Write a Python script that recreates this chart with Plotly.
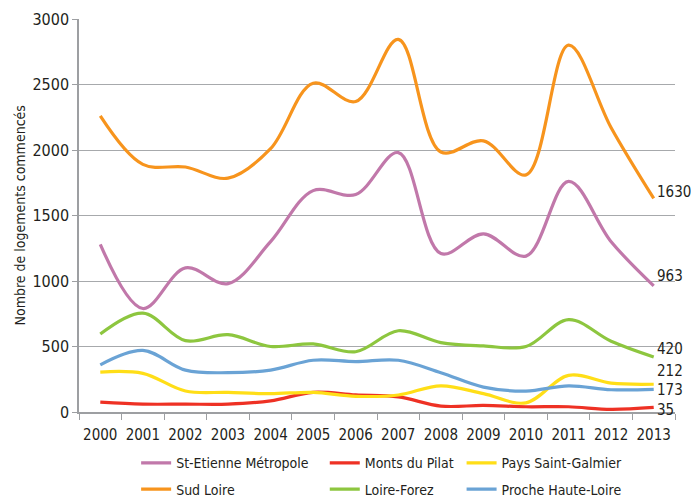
import plotly.graph_objects as go

years = [str(y) for y in range(2000, 2014)]

st_etienne = [1280, 790, 1100, 980, 1300, 1690, 1660, 1980, 1210, 1360, 1190, 1760, 1300, 963]
monts_pilat = [75, 60, 60, 60, 85, 150, 130, 115, 45, 50, 40, 40, 20, 35]
pays_galmier = [305, 295, 160, 150, 140, 150, 120, 130, 200, 140, 70, 280, 220, 212]
sud_loire = [2260, 1890, 1870, 1785, 2010, 2510, 2370, 2845, 1985, 2070, 1810, 2800, 2170, 1630]
loire_forez = [595, 755, 545, 590, 500, 520, 460, 620, 530, 505, 500, 705, 540, 420]
proche_hl = [360, 470, 320, 300, 320, 395, 385, 395, 300, 190, 160, 200, 170, 173]

FONT = "DejaVu Sans Condensed, Liberation Sans Narrow, sans-serif"
TXT = "#231f20"

# (name, values, colour, legend column)
series = [
    ("St-Etienne Métropole", st_etienne, "#c178aa", "legend"),
    ("Sud Loire", sud_loire, "#f7941d", "legend"),
    ("Monts du Pilat", monts_pilat, "#ee3124", "legend2"),
    ("Loire-Forez", loire_forez, "#8dc63f", "legend2"),
    ("Pays Saint-Galmier", pays_galmier, "#ffde17", "legend3"),
    ("Proche Haute-Loire", proche_hl, "#6aa3d5", "legend3"),
]

# end-of-line value labels, nudged vertically so they stay apart
end_shift = {"Sud Loire": 6, "St-Etienne Métropole": 10, "Loire-Forez": 8,
             "Pays Saint-Galmier": 13, "Proche Haute-Loire": -1, "Monts du Pilat": -3}

last = len(years) - 1

fig = go.Figure()
for name, vals, color, leg in series:
    fig.add_trace(go.Scatter(
        x=years, y=vals, name=name, mode="lines",
        line=dict(color=color, width=3.2, shape="spline", smoothing=1.0),
        legend=leg, legendgroup=name,
    ))
    fig.add_annotation(
        x=last, y=vals[-1], text=str(vals[-1]), showarrow=False,
        xanchor="left", yanchor="middle", xshift=1, yshift=end_shift[name],
        font=dict(family=FONT, size=15, color=TXT),
    )

# rotated y-axis title
fig.add_annotation(
    text="Nombre de logements commencés", textangle=-90, showarrow=False,
    xref="paper", yref="paper", x=-0.099, y=0.5, xanchor="center", yanchor="middle",
    font=dict(family=FONT, size=14, color=TXT),
)

leg_common = dict(orientation="v", yanchor="top", xanchor="left",
                  xref="container", yref="container", y=0.1,
                  font=dict(family=FONT, size=14, color=TXT),
                  bgcolor="rgba(0,0,0,0)", tracegroupgap=5, itemwidth=30,
                  traceorder="grouped")

fig.update_layout(
    width=691, height=497,
    margin=dict(l=79, r=16, t=19, b=85, autoexpand=False),
    paper_bgcolor="white", plot_bgcolor="white",
    font=dict(family=FONT, size=14, color=TXT),
    xaxis=dict(type="category", range=[-0.5, 13.5], tickson="boundaries",
               ticks="outside", ticklen=6, tickcolor="#9d9fa2", tickangle=0,
               showline=True, linecolor="#9d9fa2", linewidth=1.5,
               showgrid=False, automargin=False, ticklabelstandoff=8,
               tickfont=dict(size=15)),
    yaxis=dict(range=[0, 3000], dtick=500, ticks="outside", ticklen=5,
               tickcolor="#9d9fa2", showline=True, linecolor="#9d9fa2",
               linewidth=1.5, gridcolor="#a7a9ac", gridwidth=1.2,
               zeroline=False, automargin=False,
               tickfont=dict(size=16)),
    legend=dict(x=0.197, **leg_common),
    legend2=dict(x=0.47, **leg_common),
    legend3=dict(x=0.668, **leg_common),
)

fig.write_html("out.html")
